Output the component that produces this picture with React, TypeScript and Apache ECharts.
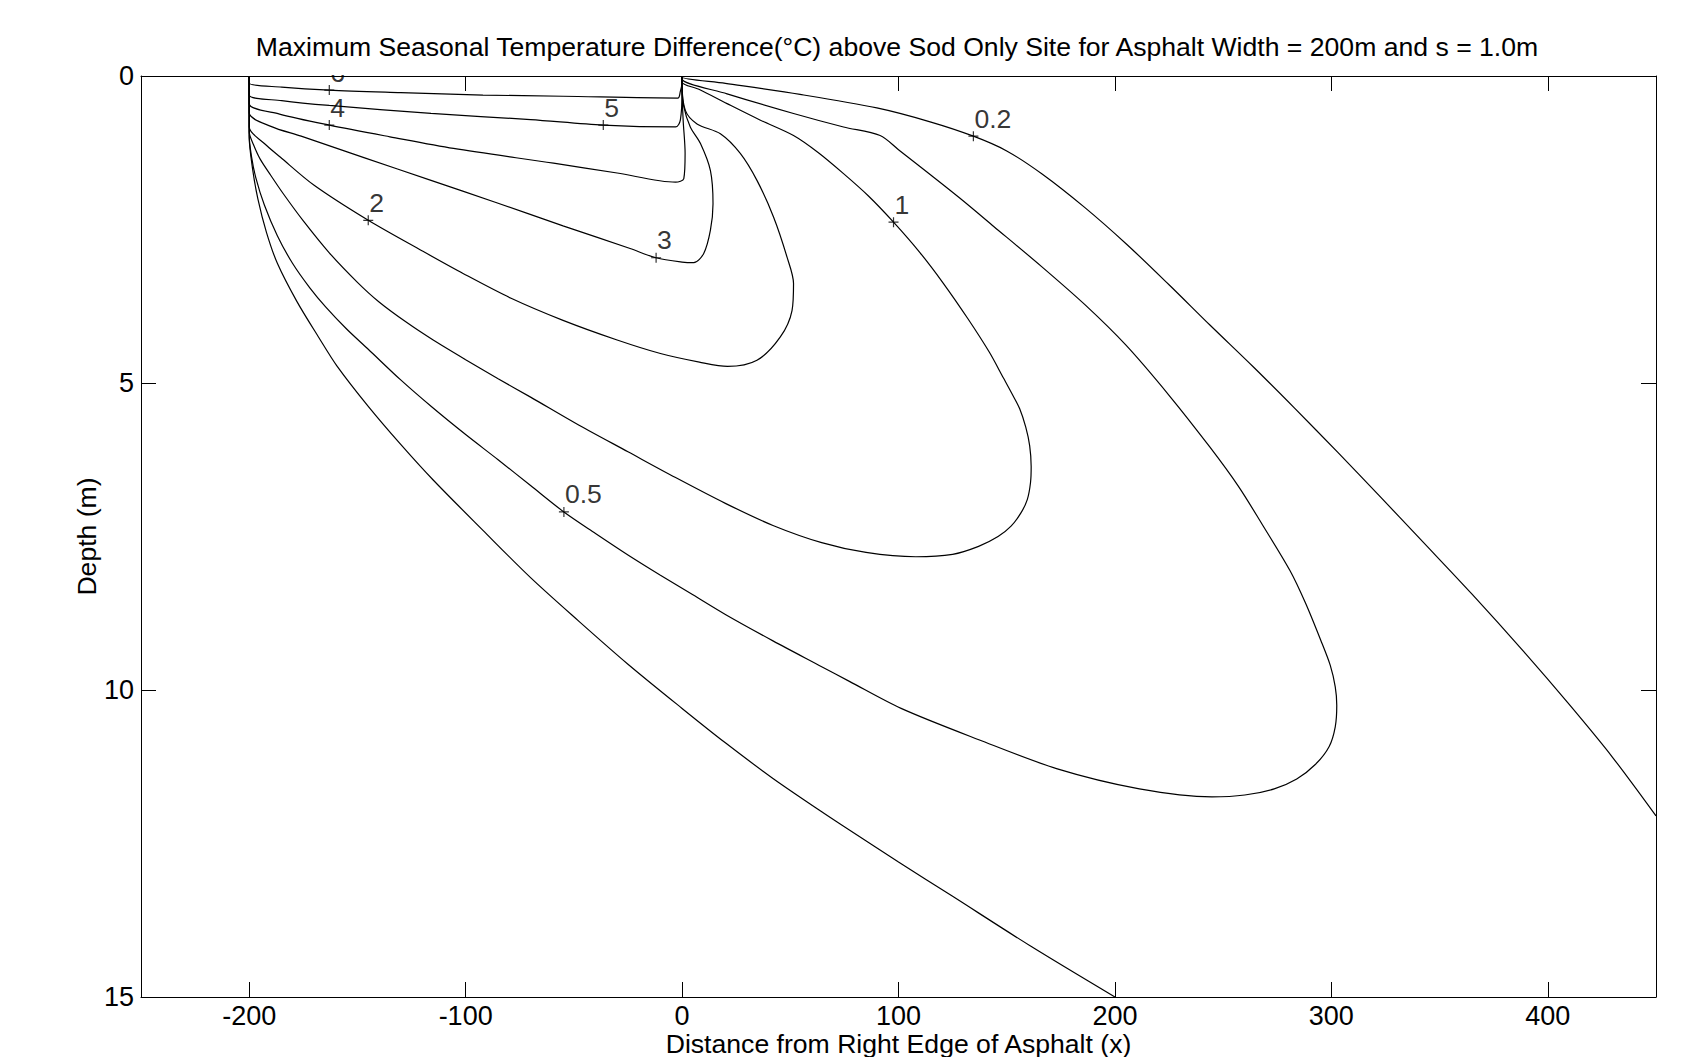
import React, { useEffect, useRef } from "react";
import * as echarts from "echarts";

// ---- Data (x = distance from right edge of asphalt, d = depth in m) ----
const xTicks = [-200, -100, 0, 100, 200, 300, 400];
const yTicks = [0, 5, 10, 15];

const c6 = [[-200, 0], [-200, 0.12], [-185, 0.18], [-163, 0.23], [-130, 0.27], [-92, 0.31], [-55, 0.33], [-2, 0.36], [-0.8, 0.25], [0, 0.1], [0, 0]];
const c5 = [[-200, 0], [-200, 0.31], [-185, 0.4], [-163, 0.48], [-116, 0.61], [-70, 0.71], [-36.4, 0.8], [-3, 0.83], [-0.8, 0.72], [0, 0.23], [0, 0]];
const c4 = [[-200, 0], [-200, 0.45], [-186, 0.62], [-163, 0.8], [-135, 0.99], [-105.6, 1.18], [-59.4, 1.42], [-30, 1.58], [-3, 1.73], [0.8, 1.67], [1.4, 1.26], [0.5, 0.72], [0, 0.23], [0, 0]];
const c3 = [[-200, 0], [-200, 0.6], [-190, 0.82], [-176, 0.98], [-147, 1.33], [-116, 1.7], [-86, 2.06], [-55, 2.44], [-24, 2.81], [-12, 2.96], [0, 3.03], [5.4, 3.04], [10, 2.89], [13.1, 2.51], [14.3, 2.08], [13.1, 1.54], [8.5, 1.1], [3.8, 0.83], [0.8, 0.5], [0, 0.15], [0, 0]];
const c2 = [[-200, 0], [-200, 0.83], [-193, 1.1], [-185.7, 1.32], [-170, 1.78], [-145, 2.35], [-120, 2.85], [-101, 3.22], [-79, 3.62], [-55, 3.98], [-30, 4.3], [-10, 4.52], [8, 4.66], [21, 4.73], [34.6, 4.63], [45.4, 4.25], [50.8, 3.82], [51.5, 3.38], [48.5, 2.95], [42.3, 2.3], [34.6, 1.7], [26.9, 1.26], [17.7, 0.94], [6.9, 0.78], [1.5, 0.56], [0, 0.12], [0, 0]];
const c1 = [[-200, 0], [-200, 0.91], [-198, 1.12], [-195, 1.35], [-190, 1.62], [-184, 1.93], [-175, 2.36], [-163, 2.88], [-150, 3.36], [-140, 3.68], [-127, 4.02], [-115, 4.3], [-100, 4.62], [-85, 4.93], [-70, 5.23], [-48, 5.68], [-25, 6.12], [-3, 6.54], [20, 6.96], [42, 7.32], [64.5, 7.6], [85, 7.76], [108, 7.83], [125, 7.79], [137, 7.66], [146, 7.5], [152, 7.33], [156.5, 7.12], [159.5, 6.9], [161, 6.62], [161.3, 6.36], [160.6, 6.02], [158.8, 5.72], [156, 5.42], [152.5, 5.18], [148.5, 4.92], [142, 4.5], [132, 3.95], [120.8, 3.38], [110, 2.88], [97.7, 2.38], [86, 1.95], [74.6, 1.59], [63, 1.25], [51.5, 0.97], [36.2, 0.72], [20.8, 0.45], [8, 0.22], [0, 0.1], [0, 0]];
const c05 = [[-200, 0], [-200, 0.97], [-199, 1.3], [-197, 1.65], [-193, 2.1], [-187, 2.6], [-180, 3.05], [-172, 3.45], [-164.7, 3.76], [-155, 4.12], [-145, 4.45], [-130, 4.95], [-115.3, 5.4], [-100, 5.84], [-85, 6.25], [-70, 6.67], [-54.6, 7.1], [-40, 7.45], [-25, 7.8], [-10, 8.13], [5, 8.45], [20, 8.77], [42, 9.2], [64.5, 9.62], [77.3, 9.86], [101.2, 10.3], [137.1, 10.81], [173, 11.28], [211.3, 11.61], [244.8, 11.74], [260, 11.71], [273.6, 11.61], [284, 11.45], [292.7, 11.21], [299, 10.92], [301.8, 10.6], [302.5, 10.25], [301.8, 9.95], [299.5, 9.6], [295.1, 9.19], [288, 8.58], [280.8, 8.05], [268, 7.3], [257, 6.68], [244, 6.05], [225, 5.2], [205, 4.38], [186, 3.72], [166, 3.1], [144, 2.45], [128, 1.98], [113, 1.56], [100, 1.2], [91.5, 0.97], [74.6, 0.83], [51.5, 0.61], [20.8, 0.29], [0, 0.05], [0, 0]];
const c02Left = [[-200, 0], [-200, 0.99], [-198.5, 1.5], [-196, 2.0], [-192, 2.55], [-187, 3.05], [-178, 3.67], [-168, 4.25], [-159.5, 4.72], [-145, 5.38], [-130, 6.0], [-115, 6.58], [-92, 7.4], [-70, 8.17], [-48, 8.87], [-25, 9.58], [0, 10.3], [20, 10.86], [42, 11.44], [64, 11.97], [77.3, 12.28], [100, 12.8], [125, 13.36], [161, 14.17], [200, 15.0]];
const c02Right = [[0, 0], [0, 0.02], [20, 0.12], [54.5, 0.3], [90, 0.52], [115, 0.75], [134.6, 0.98], [150, 1.22], [166.5, 1.6], [186, 2.14], [205.4, 2.74], [225, 3.4], [244, 4.06], [264, 4.74], [283, 5.41], [303, 6.13], [322, 6.83], [341, 7.54], [365, 8.44], [388.5, 9.36], [410, 10.24], [430, 11.1], [450, 12.05]];

const contourLines = [c6, c5, c4, c3, c2, c1, c05, c02Left, c02Right];

// contour label positions: [x, depth, text]
const labelMarks = [
  [-163, 0.23, "6"],
  [-163, 0.8, "4"],
  [-36.4, 0.8, "5"],
  [-12, 2.96, "3"],
  [-145, 2.35, "2"],
  [97.7, 2.38, "1"],
  [134.6, 0.98, "0.2"],
  [-54.6, 7.1, "0.5"],
];

const titleText =
  "Maximum Seasonal Temperature Difference(°C) above Sod Only Site for Asphalt Width = 200m and s = 1.0m";
const xName = "Distance from Right Edge of Asphalt (x)";
const yName = "Depth (m)";

const FONT = "'Liberation Sans', Arial, Helvetica, sans-serif";
const PLUS = "path://M4.4,0H5.6V4.4H10V5.6H5.6V10H4.4V5.6H0V4.4H4.4Z";

export default function App() {
  const ref = useRef<HTMLDivElement>(null);

  useEffect(() => {
    if (!ref.current) return;
    const chart = echarts.init(ref.current, undefined, { renderer: "svg" });

    const axisLine = { show: true, onZero: false, lineStyle: { color: "#000", width: 1 } };
    const tickStyle = { color: "#000", width: 1 };
    const textStyle = { fontSize: 26.6, color: "#000", fontFamily: FONT };
    const tickText = { fontSize: 27, color: "#000", fontFamily: FONT };

    const lineSeries = contourLines.map((pts) => ({
      type: "line",
      data: pts,
      showSymbol: false,
      symbol: "none",
      smooth: 0.3,
      silent: true,
      clip: true,
      lineStyle: { color: "#000", width: 1.2 },
      z: 3,
    }));

    chart.setOption({
      animation: false,
      backgroundColor: "#fff",
      title: {
        text: titleText,
        left: 897,
        top: 33,
        padding: 0,
        textAlign: "center",
        textStyle: { ...textStyle, fontWeight: "normal" },
      },
      grid: { left: 141, right: 45, top: 76, bottom: 60, containLabel: false, outerBoundsMode: "none" },
      xAxis: [
        {
          type: "value",
          position: "bottom",
          min: -250,
          max: 450,
          axisLine,
          axisTick: { show: true, inside: true, length: 15, customValues: xTicks, lineStyle: tickStyle },
          axisLabel: { show: true, customValues: xTicks, margin: 5, ...tickText },
          splitLine: { show: false },
          name: xName,
          nameLocation: "middle",
          nameGap: 33,
          nameMoveOverlap: false,
          nameTextStyle: textStyle,
        },
        {
          type: "value",
          position: "top",
          min: -250,
          max: 450,
          axisLine,
          axisTick: { show: true, inside: true, length: 15, customValues: xTicks, lineStyle: tickStyle },
          axisLabel: { show: false },
          splitLine: { show: false },
        },
      ],
      yAxis: [
        {
          type: "value",
          position: "left",
          inverse: true,
          min: 0,
          max: 15,
          interval: 5,
          axisLine,
          axisTick: { show: true, inside: true, length: 15, customValues: yTicks, lineStyle: tickStyle },
          axisLabel: { show: true, customValues: yTicks, margin: 7, ...tickText },
          splitLine: { show: false },
          name: yName,
          nameLocation: "middle",
          nameRotate: 90,
          nameGap: 41,
          nameMoveOverlap: false,
          nameTextStyle: textStyle,
        },
        {
          type: "value",
          position: "right",
          inverse: true,
          min: 0,
          max: 15,
          interval: 5,
          axisLine,
          axisTick: { show: true, inside: true, length: 15, customValues: yTicks, lineStyle: tickStyle },
          axisLabel: { show: false },
          splitLine: { show: false },
        },
      ],
      series: [
        ...lineSeries,
        {
          type: "scatter",
          data: labelMarks.map((m) => [m[0], m[1], m[2]]),
          symbol: PLUS,
          symbolSize: 10,
          silent: true,
          itemStyle: { color: "#000" },
          label: {
            show: true,
            formatter: (p: any) => p.value[2],
            position: [6, -26],
            ...textStyle,
          },
          z: 4,
        },
      ],
      graphic: [
        {
          type: "rect",
          z: 100,
          shape: { x: 300, y: 58, width: 80, height: 17 },
          style: { fill: "#fff" },
          silent: true,
        },
      ],
    });

    return () => chart.dispose();
  }, []);

  return (
    <div
      ref={ref}
      style={{ position: "absolute", left: 0, top: 0, width: 1701, height: 1057 }}
    />
  );
}
